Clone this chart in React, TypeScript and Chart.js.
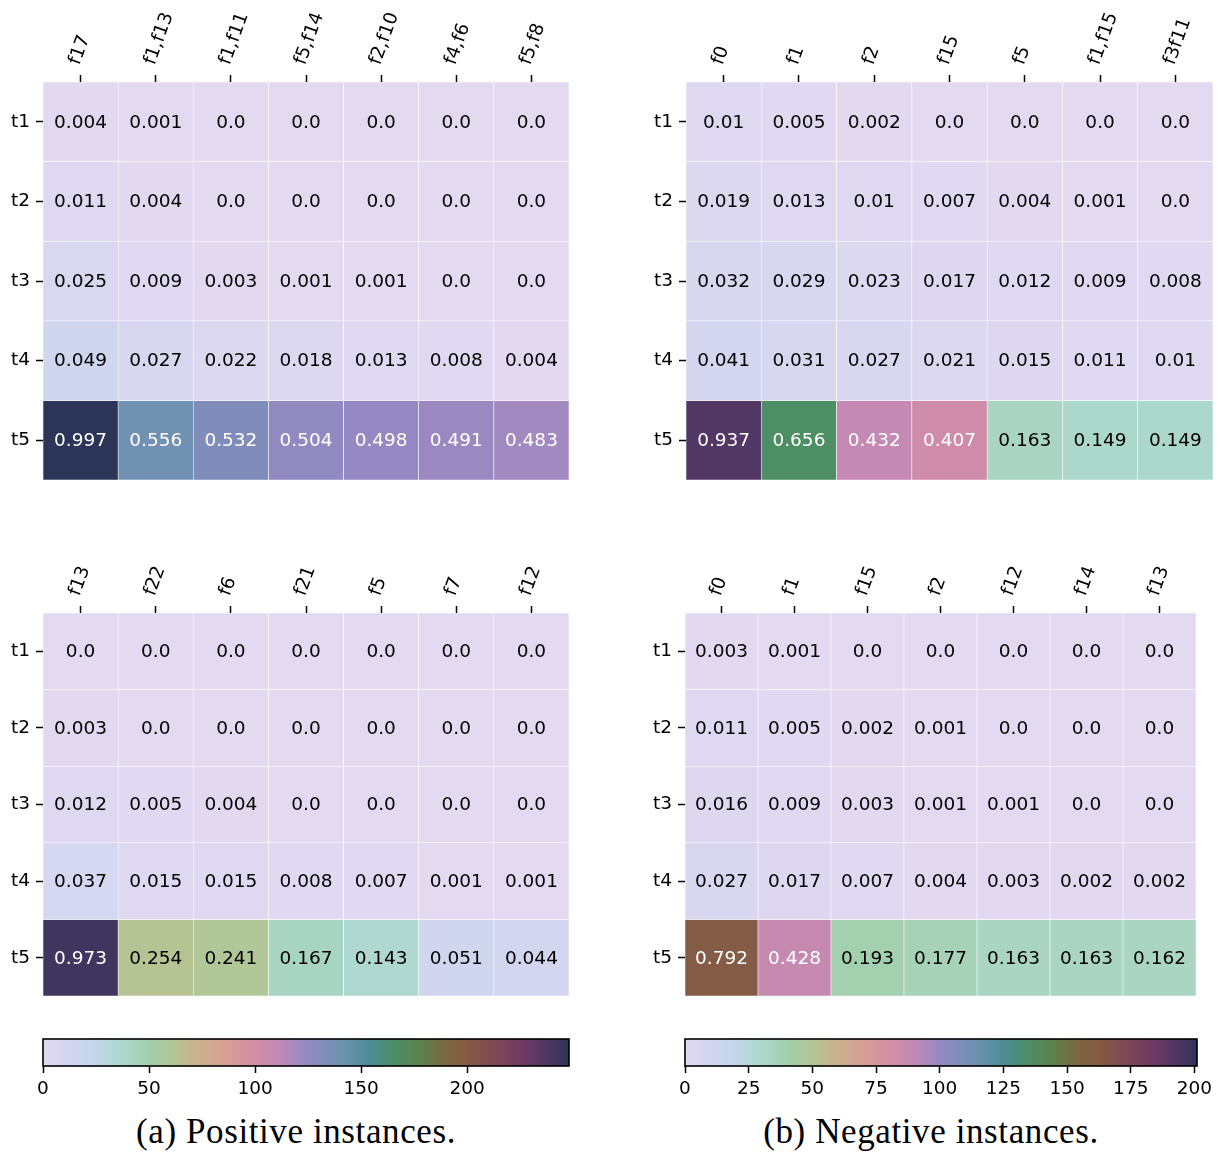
import React, { useEffect, useRef } from "react";
import { Chart, registerables } from "chart.js";

Chart.register(...registerables);

const FONT = "DejaVu Sans";
Chart.defaults.font.family = FONT;

// ---------- data ----------
const rowLabels = ["t1", "t2", "t3", "t4", "t5"];

const posTopCols = ["f17", "f1,f13", "f1,f11", "f5,f14", "f2,f10", "f4,f6", "f5,f8"];
const posTopValues = [
  [0.004, 0.001, 0.0, 0.0, 0.0, 0.0, 0.0],
  [0.011, 0.004, 0.0, 0.0, 0.0, 0.0, 0.0],
  [0.025, 0.009, 0.003, 0.001, 0.001, 0.0, 0.0],
  [0.049, 0.027, 0.022, 0.018, 0.013, 0.008, 0.004],
  [0.997, 0.556, 0.532, 0.504, 0.498, 0.491, 0.483],
];

const negTopCols = ["f0", "f1", "f2", "f15", "f5", "f1,f15", "f3f11"];
const negTopValues = [
  [0.01, 0.005, 0.002, 0.0, 0.0, 0.0, 0.0],
  [0.019, 0.013, 0.01, 0.007, 0.004, 0.001, 0.0],
  [0.032, 0.029, 0.023, 0.017, 0.012, 0.009, 0.008],
  [0.041, 0.031, 0.027, 0.021, 0.015, 0.011, 0.01],
  [0.937, 0.656, 0.432, 0.407, 0.163, 0.149, 0.149],
];

const posBottomCols = ["f13", "f22", "f6", "f21", "f5", "f7", "f12"];
const posBottomValues = [
  [0.0, 0.0, 0.0, 0.0, 0.0, 0.0, 0.0],
  [0.003, 0.0, 0.0, 0.0, 0.0, 0.0, 0.0],
  [0.012, 0.005, 0.004, 0.0, 0.0, 0.0, 0.0],
  [0.037, 0.015, 0.015, 0.008, 0.007, 0.001, 0.001],
  [0.973, 0.254, 0.241, 0.167, 0.143, 0.051, 0.044],
];

const negBottomCols = ["f0", "f1", "f15", "f2", "f12", "f14", "f13"];
const negBottomValues = [
  [0.003, 0.001, 0.0, 0.0, 0.0, 0.0, 0.0],
  [0.011, 0.005, 0.002, 0.001, 0.0, 0.0, 0.0],
  [0.016, 0.009, 0.003, 0.001, 0.001, 0.0, 0.0],
  [0.027, 0.017, 0.007, 0.004, 0.003, 0.002, 0.002],
  [0.792, 0.428, 0.193, 0.177, 0.163, 0.163, 0.162],
];

// instance counts behind the fractions (colour scale is in counts)
const positiveTotal = 249;
const negativeTotal = 205;
const positiveMax = 248;
const negativeMax = 201;
const positiveTicks = [0, 50, 100, 150, 200];
const negativeTicks = [0, 25, 50, 75, 100, 125, 150, 175, 200];

const captionA = "(a) Positive instances.";
const captionB = "(b) Negative instances.";

// colormap sampled from the colour bar (fraction of max -> colour)
const cmapStops: [number, string][] = [
  [0.0, "#e3d9f1"],
  [0.05, "#d1d6ef"],
  [0.1, "#c2d7ea"],
  [0.15, "#acd8cc"],
  [0.2, "#a2cfac"],
  [0.25, "#b4c594"],
  [0.3, "#cbb08e"],
  [0.35, "#d69f96"],
  [0.4, "#d38ea4"],
  [0.45, "#c189b6"],
  [0.5, "#9489c3"],
  [0.54, "#7d8eb9"],
  [0.57, "#6a93ae"],
  [0.62, "#4d8d98"],
  [0.67, "#4e8e64"],
  [0.72, "#5d804c"],
  [0.77, "#7d6540"],
  [0.81, "#845a45"],
  [0.87, "#7d4558"],
  [0.92, "#6b3963"],
  [0.96, "#4f3664"],
  [1.0, "#2c3457"],
];

// ---------- helpers ----------
function hexToRgb(h: string): number[] {
  const n = parseInt(h.slice(1), 16);
  return [(n >> 16) & 255, (n >> 8) & 255, n & 255];
}

function cmap(f: number): number[] {
  const t = Math.max(0, Math.min(1, f));
  for (let i = 1; i < cmapStops.length; i++) {
    const [f1, c1] = cmapStops[i];
    if (t <= f1) {
      const [f0, c0] = cmapStops[i - 1];
      const a = (t - f0) / (f1 - f0);
      const A = hexToRgb(c0);
      const B = hexToRgb(c1);
      return A.map((v, k) => Math.round(v + (B[k] - v) * a));
    }
  }
  return hexToRgb(cmapStops[cmapStops.length - 1][1]);
}

function rgbStr(c: number[]) {
  return `rgb(${c[0]},${c[1]},${c[2]})`;
}

function luminance(c: number[]) {
  const lin = c.map((v) => {
    const s = v / 255;
    return s <= 0.03928 ? s / 12.92 : Math.pow((s + 0.055) / 1.055, 2.4);
  });
  return 0.2126 * lin[0] + 0.7152 * lin[1] + 0.0722 * lin[2];
}

function fmt(v: number) {
  return Number.isInteger(v) ? v.toFixed(1) : String(v);
}

const FS = 18.5;

// ---------- heatmap ----------
type HeatProps = {
  cols: string[];
  values: number[][];
  total: number;
  vmax: number;
  left: number;
  top: number;
  width: number;
  height: number;
  axisLeft: number;
  axisTop: number;
  padRight: number;
  padBottom: number;
};

function Heatmap(p: HeatProps) {
  const ref = useRef<HTMLCanvasElement | null>(null);
  useEffect(() => {
    if (!ref.current) return;
    const colorOf = (v: number) => cmap((v * p.total) / p.vmax);
    const textPlugin = {
      id: "cellText",
      afterDatasetsDraw(chart: any) {
        const ctx = chart.ctx;
        ctx.save();
        ctx.font = `${FS}px "${FONT}"`;
        ctx.textAlign = "center";
        ctx.textBaseline = "middle";
        chart.data.datasets.forEach((_ds: any, i: number) => {
          const meta = chart.getDatasetMeta(i);
          meta.data.forEach((el: any, j: number) => {
            const { x, y, base } = el.getProps(["x", "y", "base"], true);
            const v = p.values[i][j];
            ctx.fillStyle = luminance(colorOf(v)) > 0.408 ? "#000000" : "#ffffff";
            ctx.fillText(fmt(v), x, (y + base) / 2 + 1);
          });
        });
        ctx.restore();
      },
    };
    const chart = new Chart(ref.current, {
      type: "bar",
      data: {
        labels: p.cols,
        datasets: rowLabels.map((r, i) => ({
          label: r,
          data: p.cols.map(() => [i, i + 1]),
          backgroundColor: p.values[i].map((v) => rgbStr(colorOf(v))),
          borderColor: "#ffffff",
          borderWidth: 0.6,
          borderSkipped: false,
          barPercentage: 1,
          categoryPercentage: 1,
        })),
      } as any,
      options: {
        responsive: false,
        animation: false,
        devicePixelRatio: 1,
        layout: { padding: { left: 0, top: 0, right: p.padRight, bottom: p.padBottom } },
        plugins: {
          legend: { display: false },
          tooltip: { enabled: false },
        },
        scales: {
          x: {
            type: "category",
            position: "top",
            stacked: true,
            offset: true,
            grid: {
              display: true,
              drawOnChartArea: false,
              drawTicks: true,
              tickLength: 7,
              tickWidth: 1.5,
              tickColor: "#000000",
              offset: false,
            },
            border: { display: false },
            ticks: {
              minRotation: 70,
              maxRotation: 70,
              autoSkip: false,
              padding: 7,
              labelOffset: 15,
              color: "#000000",
              font: { size: FS, family: FONT },
            },
            afterFit: (s: any) => {
              s.height = p.axisTop;
              s.paddingLeft = 0;
              s.paddingRight = 0;
            },
          },
          y: {
            type: "linear",
            min: 0,
            max: 5,
            reverse: true,
            position: "left",
            afterBuildTicks: (s: any) => {
              s.ticks = rowLabels.map((_r, i) => ({ value: i + 0.5 }));
            },
            ticks: {
              autoSkip: false,
              callback: (_v: any, idx: number) => rowLabels[idx],
              color: "#000000",
              padding: 6,
              font: { size: FS, family: FONT },
            },
            grid: {
              drawOnChartArea: false,
              drawTicks: true,
              tickLength: 7,
              tickWidth: 1.5,
              tickColor: "#000000",
            },
            border: { display: false },
            afterFit: (s: any) => {
              s.width = p.axisLeft;
              s.paddingTop = 0;
              s.paddingBottom = 0;
            },
          },
        },
      } as any,
      plugins: [textPlugin],
    });
    return () => chart.destroy();
  }, []);
  return (
    <canvas
      ref={ref}
      width={p.width}
      height={p.height}
      style={{ position: "absolute", left: p.left, top: p.top, width: p.width, height: p.height }}
    />
  );
}

// ---------- colour bar ----------
type BarProps = {
  vmax: number;
  ticks: number[];
  left: number;
  top: number;
  width: number;
  height: number;
  padLeft: number;
  padRight: number;
  padTop: number;
  axisHeight: number;
};

function ColorBar(p: BarProps) {
  const ref = useRef<HTMLCanvasElement | null>(null);
  useEffect(() => {
    if (!ref.current) return;
    const framePlugin = {
      id: "frame",
      afterDatasetsDraw(chart: any) {
        const a = chart.chartArea;
        const ctx = chart.ctx;
        ctx.save();
        ctx.strokeStyle = "#000000";
        ctx.lineWidth = 1.6;
        ctx.strokeRect(a.left, a.top, a.right - a.left, a.bottom - a.top);
        ctx.restore();
      },
    };
    const chart = new Chart(ref.current, {
      type: "bar",
      data: {
        labels: ["scale"],
        datasets: [
          {
            data: [[0, p.vmax]],
            backgroundColor: (c: any) => {
              const a = c.chart.chartArea;
              if (!a) return "#ffffff";
              const g = c.chart.ctx.createLinearGradient(a.left, 0, a.right, 0);
              cmapStops.forEach(([f, col]) => g.addColorStop(f, col));
              return g;
            },
            borderWidth: 0,
            barPercentage: 1,
            categoryPercentage: 1,
          },
        ],
      } as any,
      options: {
        indexAxis: "y",
        responsive: false,
        animation: false,
        devicePixelRatio: 1,
        layout: { padding: { left: p.padLeft, right: p.padRight, top: p.padTop, bottom: 0 } },
        plugins: { legend: { display: false }, tooltip: { enabled: false } },
        scales: {
          x: {
            type: "linear",
            min: 0,
            max: p.vmax,
            position: "bottom",
            afterBuildTicks: (s: any) => {
              s.ticks = p.ticks.map((v) => ({ value: v }));
            },
            ticks: {
              autoSkip: false,
              color: "#000000",
              padding: 5,
              font: { size: FS, family: FONT },
            },
            grid: {
              drawOnChartArea: false,
              drawTicks: true,
              tickLength: 7,
              tickWidth: 1.5,
              tickColor: "#000000",
            },
            border: { display: false },
            afterFit: (s: any) => {
              s.height = p.axisHeight;
              s.paddingLeft = 0;
              s.paddingRight = 0;
            },
          },
          y: { type: "category", display: false },
        },
      } as any,
      plugins: [framePlugin],
    });
    return () => chart.destroy();
  }, []);
  return (
    <canvas
      ref={ref}
      width={p.width}
      height={p.height}
      style={{ position: "absolute", left: p.left, top: p.top, width: p.width, height: p.height }}
    />
  );
}

const captionStyle: React.CSSProperties = {
  position: "absolute",
  width: 600,
  textAlign: "center",
  fontFamily: '"Liberation Serif", serif',
  fontSize: 35,
  letterSpacing: 0.6,
  lineHeight: "40px",
  color: "#000000",
  whiteSpace: "nowrap",
};

export default function App() {
  return (
    <div
      style={{
        position: "absolute",
        left: 0,
        top: 0,
        width: 1220,
        height: 1152,
        background: "#ffffff",
        overflow: "hidden",
      }}
    >
      <Heatmap
        cols={posTopCols}
        values={posTopValues}
        total={positiveTotal}
        vmax={positiveMax}
        left={0}
        top={0}
        width={600}
        height={500}
        axisLeft={43}
        axisTop={82}
        padRight={31}
        padBottom={20}
      />
      <Heatmap
        cols={negTopCols}
        values={negTopValues}
        total={negativeTotal}
        vmax={negativeMax}
        left={640}
        top={0}
        width={580}
        height={500}
        axisLeft={46}
        axisTop={82}
        padRight={7}
        padBottom={20}
      />
      <Heatmap
        cols={posBottomCols}
        values={posBottomValues}
        total={positiveTotal}
        vmax={positiveMax}
        left={0}
        top={520}
        width={600}
        height={500}
        axisLeft={43}
        axisTop={93}
        padRight={31}
        padBottom={24}
      />
      <Heatmap
        cols={negBottomCols}
        values={negBottomValues}
        total={negativeTotal}
        vmax={negativeMax}
        left={640}
        top={520}
        width={580}
        height={500}
        axisLeft={45}
        axisTop={93}
        padRight={24}
        padBottom={24}
      />
      <ColorBar
        vmax={positiveMax}
        ticks={positiveTicks}
        left={0}
        top={1020}
        width={620}
        height={90}
        padLeft={43}
        padRight={51}
        padTop={19}
        axisHeight={44}
      />
      <ColorBar
        vmax={negativeMax}
        ticks={negativeTicks}
        left={640}
        top={1020}
        width={580}
        height={90}
        padLeft={45}
        padRight={23}
        padTop={19}
        axisHeight={44}
      />
      <div style={{ ...captionStyle, left: -4, top: 1112 }}>{captionA}</div>
      <div style={{ ...captionStyle, left: 631, top: 1112 }}>{captionB}</div>
    </div>
  );
}
